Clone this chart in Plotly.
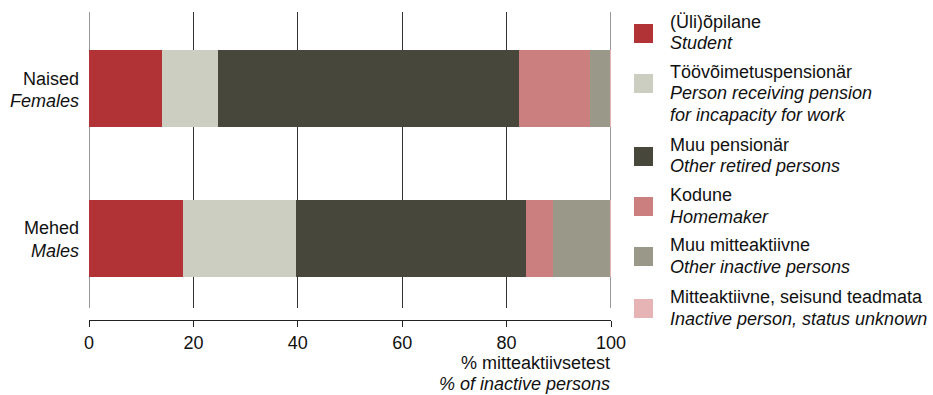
import plotly.graph_objects as go

# ---- data ----
groups_et = ["Naised", "Mehed"]
groups_en = ["Females", "Males"]
status_et = ["(Üli)õpilane", "Töövõimetuspensionär", "Muu pensionär", "Kodune",
             "Muu mitteaktiivne", "Mitteaktiivne, seisund teadmata"]
status_en = [["Student"], ["Person receiving pension", "for incapacity for work"],
             ["Other retired persons"], ["Homemaker"], ["Other inactive persons"],
             ["Inactive person, status unknown"]]
females = [14.0, 10.7, 57.7, 13.6, 3.8, 0.2]
males = [18.0, 21.6, 44.1, 5.2, 10.9, 0.2]
x_ticks = [0, 20, 40, 60, 80, 100]
axis_title_et = "% mitteaktiivsetest"
axis_title_en = "% of inactive persons"

colors = ["#B23335", "#CDCEC2", "#47483B", "#CC7F7F", "#9A9889", "#E6B4B4"]

W, H = 933, 395
L, R, T, B = 89, 611, 12, 320
FONT = "Liberation Sans, Arial, sans-serif"
FS = 18
TXT = "#111111"
GRID = "#333333"

fig = go.Figure()
for i, name in enumerate(status_et):
    fig.add_trace(go.Bar(
        y=groups_et, x=[females[i], males[i]], orientation="h", name=name,
        marker=dict(color=colors[i], line=dict(width=0)), width=0.515,
        showlegend=False, hoverinfo="skip"))

def px(xp):
    return (xp - L) / (R - L)

def py(yp):
    return (B - yp) / (B - T)

def line_anno(text, x, y, xanchor="left", italic=False, **kw):
    d = dict(xref="paper", yref="paper", x=x, y=y, xanchor=xanchor, yanchor="middle",
             showarrow=False, borderpad=0,
             text=("<i>" + text + "</i>") if italic else text,
             font=dict(family=FONT, size=FS, color=TXT))
    d.update(kw)
    return d

grid_bottom = 308
ydom0 = (B - grid_bottom) / (B - T)

shapes = []
annos = []
# grid lines at the range ends (plotly skips them at the plot edges)
for v in (x_ticks[0], x_ticks[-1]):
    shapes.append(dict(type="line", xref="x", yref="paper", x0=v, x1=v, y0=ydom0, y1=1,
                       line=dict(color=GRID, width=1), layer="below"))

# manual legend
sw_top = [24, 74, 147, 197, 247, 299]
line_y = [[22, 43], [72, 93, 115], [145, 166], [195, 217], [245, 267], [297, 319]]
for i in range(len(status_et)):
    shapes.append(dict(type="rect", xref="paper", yref="paper",
                       x0=px(634), x1=px(653), y0=py(sw_top[i] + 19), y1=py(sw_top[i]),
                       fillcolor=colors[i], line=dict(width=0)))
    lines = [status_et[i]] + status_en[i]
    for j, t in enumerate(lines):
        annos.append(line_anno(t, px(669), py(line_y[i][j]), italic=(j > 0)))

# category labels
for g_et, g_en in zip(groups_et, groups_en):
    annos.append(dict(xref="paper", yref="y", x=0, y=g_et, xanchor="right", yanchor="middle",
                      xshift=-9, yshift=10, showarrow=False, borderpad=0, text=g_et,
                      font=dict(family=FONT, size=FS, color=TXT)))
    annos.append(dict(xref="paper", yref="y", x=0, y=g_et, xanchor="right", yanchor="middle",
                      xshift=-9, yshift=-12.5, showarrow=False, borderpad=0,
                      text="<i>" + g_en + "</i>",
                      font=dict(family=FONT, size=FS, color=TXT)))

# axis title
annos.append(line_anno(axis_title_et, 1.0, py(363), xanchor="right"))
annos.append(line_anno(axis_title_en, 1.0, py(384), xanchor="right", italic=True))

fig.update_layout(
    width=W, height=H,
    margin=dict(l=L, r=W - R, t=T, b=H - B, pad=0, autoexpand=False),
    paper_bgcolor="white", plot_bgcolor="white",
    barmode="stack", bargap=0,
    font=dict(family=FONT, size=FS, color=TXT),
    shapes=shapes, annotations=annos,
    xaxis=dict(range=[0, 100], tickvals=x_ticks, ticktext=[str(v) for v in x_ticks],
               showgrid=True, gridcolor=GRID, gridwidth=1, zeroline=False,
               showline=True, linecolor="#222222", linewidth=1,
               ticks="outside", ticklen=6, tickcolor="#222222",
               anchor="free", position=0, automargin=False,
               tickfont=dict(family=FONT, size=FS, color=TXT)),
    yaxis=dict(domain=[ydom0, 1],
               type="category", categoryorder="array",
               categoryarray=[groups_et[1], groups_et[0]],
               range=[-0.468, 1.512], showgrid=False, zeroline=False,
               showline=False, ticks="", showticklabels=False, automargin=False),
)

fig.write_html("out.html", config={"displayModeBar": False, "staticPlot": True},
               post_script="document.body.style.margin='0';document.body.style.padding='0';"
                           "document.body.style.overflow='hidden';")
